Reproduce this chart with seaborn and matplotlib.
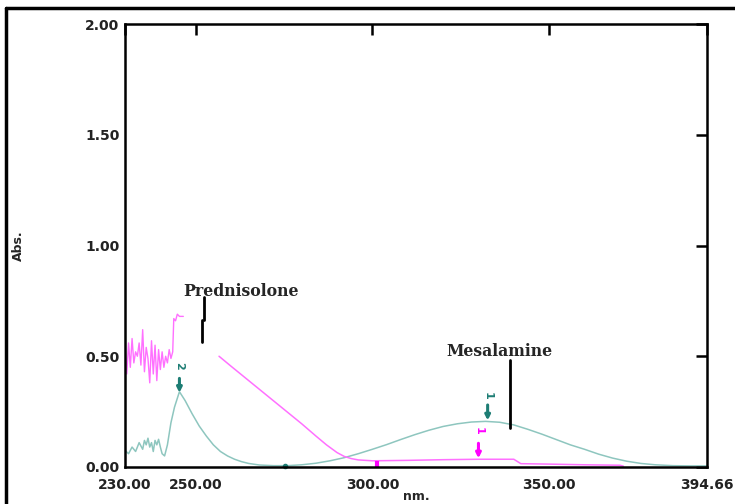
import matplotlib.pyplot as plt
import seaborn as sns
from matplotlib.lines import Line2D

# spectrum data
teal_nm = [230.0, 231.0, 232.0, 233.0, 234.0, 235.0, 235.5, 236.0, 236.5, 237.0, 237.5,
           238.0, 238.5, 239.0, 239.5, 240.0, 240.5, 241.2, 242.0, 243.0, 244.0, 245.4,
           247.0, 249.0, 251.0, 253.0, 255.0, 257.0, 259.0, 261.0, 263.0, 265.0, 268.0,
           272.0, 276.0, 280.0, 284.0, 288.0, 292.0, 296.0, 300.0, 304.0, 308.0, 312.0,
           316.0, 320.0, 324.0, 328.0, 332.0, 336.0, 340.0, 344.0, 348.0, 352.0, 356.0,
           360.0, 364.0, 368.0, 372.0, 376.0, 380.0, 385.0, 390.0, 394.66]
teal_abs = [0.075, 0.06, 0.09, 0.07, 0.11, 0.08, 0.12, 0.10, 0.13, 0.09, 0.11,
            0.07, 0.12, 0.10, 0.125, 0.09, 0.06, 0.05, 0.10, 0.20, 0.27, 0.34,
            0.30, 0.24, 0.185, 0.14, 0.10, 0.07, 0.05, 0.035, 0.024, 0.016, 0.009,
            0.006, 0.006, 0.010, 0.017, 0.028, 0.042, 0.060, 0.080, 0.101, 0.124, 0.146,
            0.166, 0.183, 0.195, 0.203, 0.206, 0.202, 0.190, 0.170, 0.148, 0.124, 0.100,
            0.080, 0.058, 0.040, 0.026, 0.016, 0.010, 0.006, 0.005, 0.005]

mag_noise_nm = [230.0, 230.5, 231.0, 231.5, 232.0, 232.5, 233.0, 233.5, 234.0, 234.5,
                235.0, 235.5, 236.0, 236.5, 237.0, 237.5, 238.0, 238.5, 239.0, 239.5,
                240.0, 240.5, 241.0, 241.5, 242.0, 242.5, 243.0, 243.5, 243.8, 244.3,
                244.8, 245.4, 246.0, 246.5]
mag_noise_abs = [0.55, 0.42, 0.56, 0.45, 0.58, 0.47, 0.52, 0.50, 0.56, 0.46,
                 0.62, 0.43, 0.54, 0.49, 0.38, 0.57, 0.42, 0.55, 0.39, 0.53,
                 0.44, 0.52, 0.45, 0.50, 0.47, 0.53, 0.49, 0.52, 0.67, 0.66,
                 0.69, 0.68, 0.68, 0.68]

mag_nm = [256.6, 260, 265, 270, 275, 280, 284, 287, 290, 292, 294, 296, 300,
          310, 320, 330, 340, 342, 350, 360, 370, 371]
mag_abs = [0.50, 0.455, 0.39, 0.325, 0.26, 0.195, 0.14, 0.10, 0.065, 0.048, 0.038,
           0.032, 0.028, 0.030, 0.033, 0.035, 0.035, 0.015, 0.013, 0.010, 0.008, 0.004]

# peak picks: label, wavelength, arrow tip, arrow tail, colour key
peak_labels = ['2', '1', '1']
peak_nm = [245.4, 332.6, 330.0]
peak_tip = [0.335, 0.21, 0.039]
peak_tail = [0.40, 0.28, 0.107]
peak_text_y = [0.455, 0.32, 0.165]
peak_series = ['teal', 'teal', 'mag']

x_ticks = [230.0, 250.0, 300.0, 350.0, 394.66]
x_tick_labels = ['230.00', '250.00', '300.00', '350.00', '394.66']
y_ticks = [0.0, 0.5, 1.0, 1.5, 2.0]
y_tick_labels = ['0.00', '0.50', '1.00', '1.50', '2.00']

teal = '#8ec6bf'
teal_dark = '#1d7d74'
mag = '#ff70ff'
mag_dark = '#ff00ff'

sns.set_style('white')
plt.rcParams['font.family'] = ['DejaVu Sans']

fig = plt.figure(figsize=(7.35, 5.04), dpi=100)
ax = fig.add_axes([125 / 735, 1 - 467 / 504, 582 / 735, 443 / 504])

sns.lineplot(x=teal_nm, y=teal_abs, color=teal, lw=1.1, ax=ax)
sns.lineplot(x=mag_noise_nm, y=mag_noise_abs, color=mag, lw=1.0, ax=ax)
sns.lineplot(x=mag_nm, y=mag_abs, color=mag, lw=1.1, ax=ax)

# peak arrows and numbers
for lab, xp, tip, tail, ty, s in zip(peak_labels, peak_nm, peak_tip, peak_tail,
                                     peak_text_y, peak_series):
    c = teal_dark if s == 'teal' else mag_dark
    ax.annotate('', xy=(xp, tip), xytext=(xp, tail),
                arrowprops=dict(arrowstyle='-|>', color=c, lw=2.2, mutation_scale=7,
                                shrinkA=0, shrinkB=0))
    ax.text(xp, ty, lab, color=c, fontsize=8, fontweight='bold', rotation=270,
            ha='center', va='center')

# small baseline markers
ax.plot([275.3], [0.004], marker='o', ms=3, color=teal_dark, clip_on=False)
ax.plot([301.3, 301.3], [0.0, 0.025], color=mag_dark, lw=3, solid_capstyle='butt')

# compound labels with pointer lines
ax.text(246.4, 0.772, 'Prednisolone', family='DejaVu Serif', fontweight='bold',
        fontsize=11.3, ha='left', va='baseline')
ax.plot([252.3, 252.3], [0.769, 0.664], color='black', lw=2)
ax.plot([251.8, 251.8], [0.664, 0.564], color='black', lw=2)
ax.text(320.8, 0.50, 'Mesalamine', family='DejaVu Serif', fontweight='bold',
        fontsize=11.3, ha='left', va='baseline')
ax.plot([338.9, 338.9], [0.483, 0.175], color='black', lw=2)

ax.set_xlim(230, 394.66)
ax.set_ylim(0, 2)
ax.set_xticks(x_ticks)
ax.set_xticklabels(x_tick_labels)
ax.set_yticks(y_ticks)
ax.set_yticklabels(y_tick_labels)
ax.tick_params(axis='both', direction='in', length=8, width=1.8, top=True, right=True,
               labelsize=10, colors='black')
ax.tick_params(axis='x', pad=8)
ax.tick_params(axis='y', pad=4)
for lab in ax.get_xticklabels() + ax.get_yticklabels():
    lab.set_fontweight('bold')
    lab.set_color('#222222')
for sp in ax.spines.values():
    sp.set_color('black')
    sp.set_linewidth(1.8)

ax.set_xlabel('nm.', fontsize=9, fontweight='bold')
ax.set_ylabel('Abs.', fontsize=9, fontweight='bold')
ax.yaxis.set_label_coords(-0.172, 0.5)
ax.xaxis.set_label_coords(0.5, -0.052)

# outer frame (left and top edges)
fig.add_artist(Line2D([6 / 735, 6 / 735], [0, 1 - 8 / 504], transform=fig.transFigure,
                      color='black', lw=2.5))
fig.add_artist(Line2D([6 / 735, 1], [1 - 8 / 504, 1 - 8 / 504], transform=fig.transFigure,
                      color='black', lw=2.5))

fig.savefig('out.png', dpi=100)
